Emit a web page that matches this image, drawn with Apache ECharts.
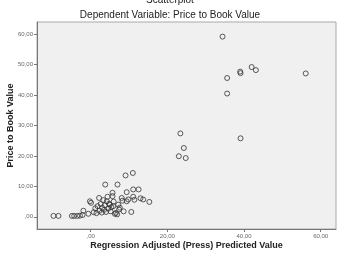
<!DOCTYPE html>
<html>
<head>
<meta charset="utf-8">
<script src="https://cdn.jsdelivr.net/npm/echarts@6/dist/echarts.min.js"></script>
<style>
  html, body { margin: 0; padding: 0; background: #fff; }
  #chart { width: 340px; height: 257px; }
</style>
</head>
<body>
<div id="chart"></div>
<script>
// predicted value (x) and price to book value (y)
const predicted = [
  -9.7, -8.4, -4.9, -4.3, -3.5, -2.8, -2.1, -1.9, -0.6, -0.2, 0.1,
  0.8, 1.2, 1.5, 1.8, 2.2, 2.3, 2.6, 2.9, 3.0, 3.3, 3.5, 3.8, 3.7, 4.0,
  4.2, 4.4, 4.6, 4.8, 5.0, 5.2, 5.4, 5.7, 5.7, 5.9, 6.0, 6.3, 6.6, 6.9,
  7.0, 7.2, 7.4, 7.6, 8.1, 8.3, 8.6, 9.1, 9.4, 9.4, 9.8, 10.6, 11.0,
  11.1, 11.1, 11.4, 12.5, 13.0, 13.7, 15.3,
  23.4, 24.3, 23.0, 24.8,
  34.4, 35.6, 35.6, 39.0, 39.1, 42.0, 43.1, 56.1, 39.1
];
const priceToBook = [
  0.3, 0.3, 0.3, 0.3, 0.3, 0.4, 0.6, 2.0, 1.0, 5.1, 4.6,
  1.5, 2.8, 1.2, 3.5, 6.2, 2.0, 4.2, 1.4, 3.0, 5.5, 2.3, 10.6, 3.8, 1.6,
  5.1, 6.6, 2.7, 4.3, 4.0, 1.8, 3.2, 6.8, 7.9, 3.5, 5.0, 1.0, 1.3, 0.8,
  10.6, 4.0, 2.4, 3.0, 6.2, 5.3, 1.8, 13.6, 8.1, 5.1, 5.7, 1.6, 14.4,
  9.0, 6.6, 5.6, 9.0, 6.1, 5.7, 4.9,
  27.4, 22.6, 19.9, 19.3,
  59.2, 45.6, 40.5, 47.7, 47.2, 49.2, 48.2, 47.1, 25.8
];
const xTicks = [0, 20, 40, 60];
const yTicks = [0, 10, 20, 30, 40, 50, 60];

function spssNum(v) {
  const s = v.toFixed(2).replace('.', ',');
  return v === 0 ? ',00' : s;
}

const chart = echarts.init(document.getElementById('chart'));
chart.setOption({
  animation: false,
  textStyle: { fontFamily: 'Liberation Sans' },
  title: [
    {
      text: 'Scatterplot',
      left: 'center',
      top: -10,
      textStyle: { fontSize: 10, fontWeight: 'normal', color: '#222' }
    },
    {
      text: 'Dependent Variable: Price to Book Value',
      left: 'center',
      top: 5,
      textStyle: { fontSize: 10, fontWeight: 'normal', color: '#222' }
    }
  ],
  grid: {
    left: 37, right: 4, top: 22, bottom: 28,
    outerBoundsMode: 'none',
    containLabel: false,
    show: true,
    backgroundColor: '#f0f0f0',
    borderColor: '#a8a8a8',
    borderWidth: 1
  },
  xAxis: {
    type: 'value',
    min: -14,
    max: 64,
    name: 'Regression Adjusted (Press) Predicted Value',
    nameLocation: 'middle',
    nameGap: 12,
    nameMoveOverlap: false,
    nameTextStyle: { fontSize: 9, fontWeight: 'bold', color: '#222' },
    axisLine: { onZero: false, lineStyle: { color: '#777' } },
    axisTick: { show: true, length: 3, customValues: xTicks, lineStyle: { color: '#777' } },
    axisLabel: {
      customValues: xTicks,
      fontSize: 6,
      color: '#666',
      margin: 4,
      formatter: spssNum
    },
    splitLine: { show: false }
  },
  yAxis: {
    type: 'value',
    min: -4,
    max: 64,
    name: 'Price to Book Value',
    nameLocation: 'middle',
    nameGap: 22,
    nameMoveOverlap: false,
    nameTextStyle: { fontSize: 9, fontWeight: 'bold', color: '#222' },
    axisLine: { show: true, onZero: false, lineStyle: { color: '#777' } },
    axisTick: { show: true, length: 3, customValues: yTicks, lineStyle: { color: '#777' } },
    axisLabel: {
      customValues: yTicks,
      fontSize: 6,
      color: '#666',
      margin: 4,
      formatter: spssNum
    },
    splitLine: { show: false }
  },
  series: [
    {
      type: 'scatter',
      symbol: 'circle',
      symbolSize: 5,
      itemStyle: { color: 'rgba(0,0,0,0)', borderColor: '#333', borderWidth: 1 },
      data: predicted.map((x, i) => [x, priceToBook[i]])
    }
  ]
});
</script>
</body>
</html>
